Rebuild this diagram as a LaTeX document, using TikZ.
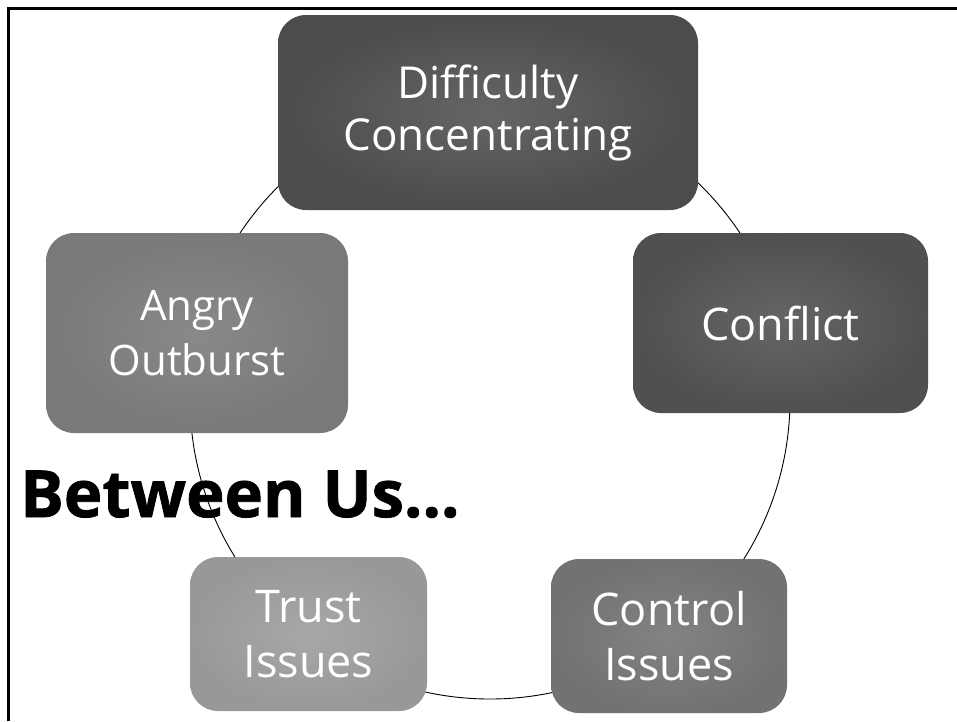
\documentclass[tikz,border=0pt]{standalone}
\usepackage{fontspec}
\setmainfont{Open Sans}
\newfontfamily\titlefont{Open Sans}[BoldFeatures={FakeBold=1.2}]
\usetikzlibrary{positioning}
\definecolor{coal}{HTML}{505050}
\definecolor{slate}{HTML}{545454}
\definecolor{stone}{HTML}{7F7F7F}
\definecolor{ash}{HTML}{787878}
\definecolor{mist}{HTML}{A0A0A0}

\begin{document}
\begin{tikzpicture}[
  x=1pt,y=-1pt,
  issue/.style={rounded corners=28pt,align=center,text=white,
    font=\fontsize{45}{55}\selectfont,inner sep=0pt},
  ring/.style={draw=black,line width=0.9pt}]
\useasboundingbox (0,0) rectangle (957,721);
% frame
\draw[line width=2.5pt] (8.5,721) -- (8.5,8.5) -- (957,8.5);
% cycle behind the boxes
\coordinate (hub) at (490,399);
\draw[ring] (hub) circle[radius=300];
\node[issue,shade,inner color=coal!88!white,outer color=coal!95!black,
  minimum width=420pt,minimum height=195pt,
  font=\fontsize{44}{52}\selectfont] (diff) at (488,112.5)
  {Difficulty\\Concentrating};
\node[issue,shade,inner color=slate!90!white,outer color=slate!95!black,
  minimum width=295pt,minimum height=180pt] (conf) at (780.5,323) {Conflict};
\node[issue,shade,inner color=ash!92!white,outer color=ash!95!black,
  minimum width=236pt,minimum height=154pt] (ctrl) at (669,636) {Control\\Issues};
\node[issue,shade,inner color=mist!92!white,outer color=mist!95!black,
  minimum width=237pt,minimum height=154pt] (trust) at (308.5,634) {Trust\\Issues};
\node[issue,shade,inner color=stone!92!white,outer color=stone!95!black,
  minimum width=302pt,minimum height=200pt,
  font=\fontsize{42}{55}\selectfont] (angry) at (197,333) {Angry\\Outburst};
% title
\node[anchor=base west,inner sep=0pt,font=\fontsize{65}{70}\titlefont\bfseries]
  (title) at (20,517) {Between Us...};
\end{tikzpicture}
\end{document}
